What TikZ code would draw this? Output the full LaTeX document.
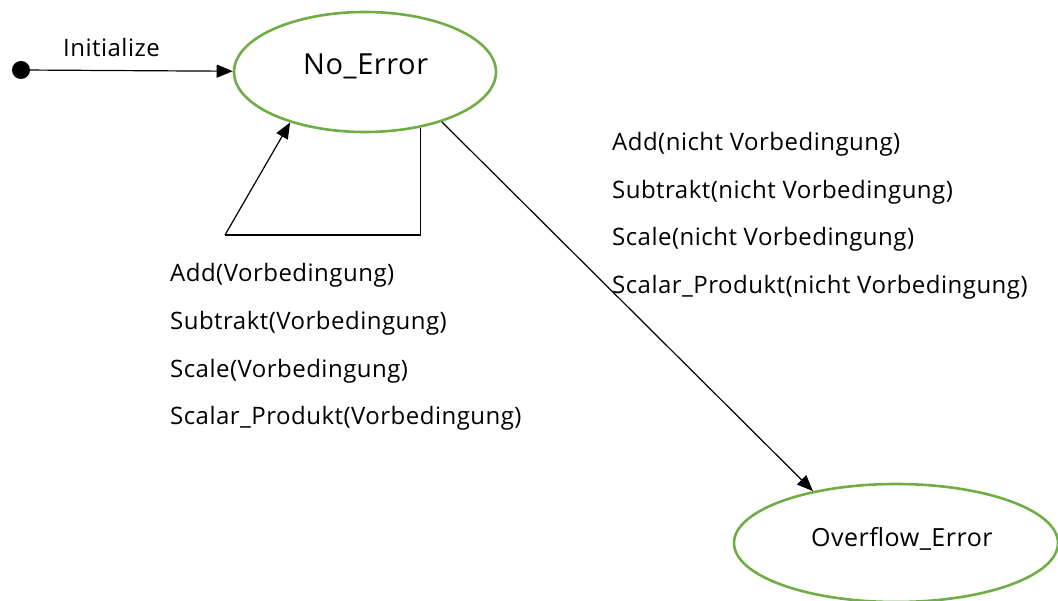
\documentclass[tikz,border=0pt]{standalone}
\usepackage{fontspec}
\setmainfont{Open Sans}[LetterSpace=2]
\usetikzlibrary{arrows.meta,shapes.geometric}

\begin{document}
\begin{tikzpicture}[x=1pt,y=-1pt,
  state/.style={ellipse,draw={rgb,255:red,112;green,173;blue,71},line width=2.6pt,inner sep=0pt},
  trans/.style={draw=black,line width=1.2pt,-{Triangle[length=16pt,width=13pt]}},
  plain/.style={draw=black,line width=1.2pt},
  lbl/.style={anchor=base west,inner sep=0pt,font=\fontsize{24}{28}\selectfont},
]
\useasboundingbox (0,0) rectangle (1058,601);

% states
\node[state,minimum width=262pt,minimum height=120pt] (ne) at (365,72) {};
\node[anchor=base west,inner sep=0pt,font=\fontsize{29}{34}\selectfont] (netxt) at (303,75) {No\_Error};
\node[state,minimum width=324pt,minimum height=118pt] (oe) at (896,543) {};
\node[lbl,font=\fontsize{25}{30}\selectfont] (oetxt) at (811,546) {Overflow\_Error};

% initial pseudo-state
\node[circle,fill=black,minimum size=18pt,inner sep=0pt] (init) at (21,70) {};
\draw[trans] (init) -- (ne);
\node[lbl] (initlbl) at (63,57) {Initialize};

% self loop
\coordinate (loopR) at (420,235);
\coordinate (loopL) at (225,235);
\draw[plain] (ne.-45) -- (ne.-45 |- loopR) -- (loopL);
\draw[trans] (loopL) -- (ne.-146.5);

% transition to overflow
\draw[trans] (ne.-33) -- (oe.148);

% loop guards
\node[lbl] (g1) at (170,282) {Add(Vorbedingung)};
\node[lbl] (g2) at (170,330) {Subtrakt(Vorbedingung)};
\node[lbl] (g3) at (170,378) {Scale(Vorbedingung)};
\node[lbl] (g4) at (170,425) {Scalar\_Produkt(Vorbedingung)};

% overflow guards
\node[lbl] (h1) at (612,151) {Add(nicht Vorbedingung)};
\node[lbl] (h2) at (612,199) {Subtrakt(nicht Vorbedingung)};
\node[lbl] (h3) at (612,246) {Scale(nicht Vorbedingung)};
\node[lbl] (h4) at (612,294) {Scalar\_Produkt(nicht Vorbedingung)};
\end{tikzpicture}
\end{document}
